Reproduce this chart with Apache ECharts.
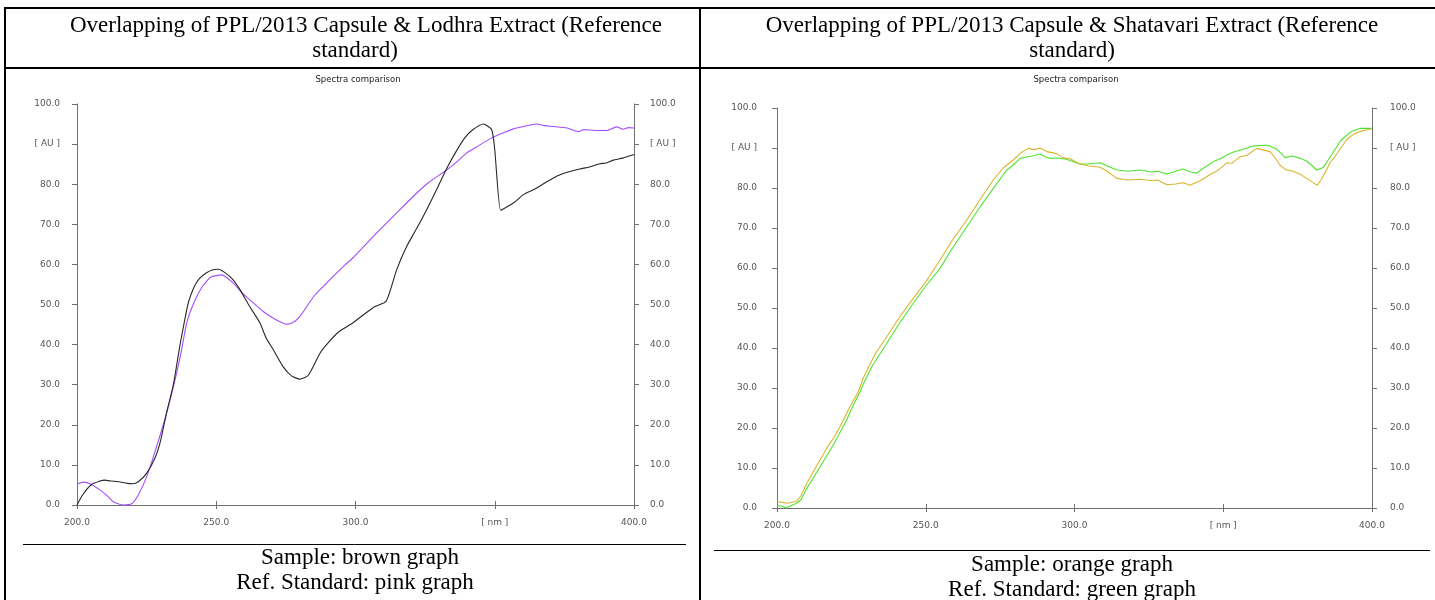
<!DOCTYPE html>
<html>
<head>
<meta charset="utf-8">
<script src="https://cdn.jsdelivr.net/npm/echarts@6/dist/echarts.min.js"></script>
<style>
html,body{margin:0;padding:0;background:#fff;}
#c{width:1435px;height:600px;}
</style>
</head>
<body>
<div id="c"></div>
<script>
// ---- tick labels ----
const xTickLabels = ['200.0', '250.0', '300.0', '[ nm ]', '400.0'];
const yTickLabels = ['0.0', '10.0', '20.0', '30.0', '40.0', '50.0', '60.0', '70.0', '80.0', '[ AU ]', '100.0'];

// ---- Lodhra chart: sample (dark) ----
const lodhraSampleNm = [200, 202, 205, 208, 210, 212, 215, 218, 220, 222, 225, 228, 230, 232, 234.6, 237, 238.5, 240, 242, 244, 246.5, 248.5, 250.7, 253, 256, 258.5, 262, 265.7, 268, 270.5, 274, 277, 280, 283, 287.3, 290, 294, 299, 303, 307, 311, 314.8, 318.4, 322, 325.6, 329, 332.8, 336, 339.3, 342, 345.9, 348.9, 350, 352.1, 354, 356.7, 360.3, 363.8, 368, 372.2, 376, 380.6, 384, 387.8, 390, 392.6, 396, 400];
const lodhraSampleAU = [0, 2.5, 5.0, 5.9, 6.2, 6.0, 5.8, 5.4, 5.3, 5.8, 7.9, 11.7, 16, 22.5, 30, 40, 45.5, 50.5, 54.3, 56.5, 57.9, 58.6, 58.8, 58, 56.2, 53.7, 49.5, 45.4, 41.5, 38.7, 34.5, 32.2, 31.4, 32.3, 37.9, 40.3, 43.2, 45.4, 47.5, 49.5, 50.8, 58.7, 64.5, 69, 73.7, 78.5, 84, 88, 91.6, 93.5, 95, 93.6, 88.6, 73.5, 74.2, 75.3, 77.4, 78.6, 80.3, 82, 83, 83.8, 84.3, 85.1, 85.3, 86, 86.5, 87.4];

// ---- Lodhra chart: reference (violet) ----
const lodhraRefNm = [200, 202.3, 205, 208.3, 211, 213, 216.6, 219.6, 222, 225, 228.6, 232.2, 235.2, 237.5, 239.4, 242, 245, 248, 252, 256, 259.5, 263.3, 267, 271, 275.3, 277.5, 280, 282.5, 285, 287, 289.6, 293, 296, 299, 303, 308.8, 314, 320.8, 326, 332.8, 336, 340, 344, 348.3, 352, 356.7, 361, 365, 368, 371, 376, 380, 382, 386, 390.2, 393.8, 396, 398, 400];
const lodhraRefAU = [5.2, 5.7, 5.2, 3.7, 2.2, 0.8, 0, 0.3, 2.5, 7, 14.6, 23, 31.2, 38.5, 45.4, 50.5, 54.5, 56.8, 57.4, 55.4, 52.8, 50.4, 48.2, 46.4, 45.1, 45.5, 47, 49.5, 52, 53.5, 55.3, 57.7, 59.7, 61.6, 64.5, 68.7, 72.3, 77, 80.3, 83.6, 85.3, 87.8, 89.5, 91.3, 92.5, 93.8, 94.5, 95, 94.6, 94.4, 94, 93.1, 93.6, 93.4, 93.4, 94.3, 93.7, 94.1, 94];

// ---- Shatavari chart: sample (orange) ----
const shatSampleNm = [200, 203.5, 206.6, 208, 210, 213.3, 216.7, 219, 221.2, 224.5, 227.3, 229, 233, 236.9, 241, 245.8, 250, 254.8, 259, 263.8, 268, 272.7, 276, 279.4, 282, 284.5, 286.5, 288.4, 290.7, 294, 296, 298.5, 301.8, 305, 308.6, 311, 314.2, 318, 322, 326, 328, 331, 334, 336.6, 338.8, 342.2, 345.5, 348, 351.2, 353, 355.6, 358, 361.2, 363, 365.7, 367.5, 369.1, 371, 373.5, 376, 378, 380, 381.6, 383, 384.7, 386, 387.5, 389.5, 391.4, 393.5, 395.9, 398, 400];
const shatSampleAU = [1.6, 1.2, 1.7, 3, 6.2, 10.5, 14.9, 17.5, 20.3, 25.3, 29, 32.5, 38.5, 42.8, 47.5, 52.4, 56.5, 62, 67, 72, 76.8, 82, 85, 87, 88.8, 89.9, 89.6, 90, 89.1, 88.6, 87.6, 87.3, 86, 85.5, 85.2, 84.2, 82.4, 82, 82.2, 81.8, 82, 80.8, 81, 81.3, 80.7, 81.8, 83.3, 84.3, 86.3, 86.2, 87.8, 88.2, 89.9, 89.6, 89.1, 87.5, 85.7, 84.6, 84.2, 83.4, 82.4, 81.4, 80.7, 82.2, 84.5, 86.5, 87.8, 90, 92, 93.3, 94.1, 94.5, 94.8];

// ---- Shatavari chart: reference (green) ----
const shatRefNm = [200, 201.5, 203, 206.6, 208, 210, 214.5, 218.9, 223.4, 225.5, 227.9, 229, 232, 236.9, 241, 245.8, 250, 254.8, 259, 263.8, 268, 272.7, 277.2, 279, 281.7, 284, 286, 288.4, 290, 291.8, 294, 297.3, 301.8, 304, 308.6, 311, 314.2, 318, 322, 326, 328, 331, 334, 336.6, 339, 341.1, 343, 346.7, 349, 351.2, 353.5, 356.7, 360.1, 362, 364.6, 366, 368, 370.8, 373.2, 376, 378, 380, 381.4, 383.6, 386, 389.6, 393, 395.9, 400];
const shatRefAU = [0.6, 0.5, 0, 1.2, 2, 4.9, 10.3, 15.75, 22, 25.5, 29, 31, 35.5, 41.2, 46, 51.2, 55.5, 59.9, 65, 70.3, 75, 79.9, 84.5, 85.5, 87.4, 87.8, 88, 88.5, 87.8, 87.4, 87.5, 87.2, 86, 86, 86.3, 85.5, 84.5, 84.2, 84.5, 84, 84.2, 83.5, 84.2, 84.75, 84, 83.7, 84.8, 86.6, 87.3, 88.25, 89, 89.7, 90.5, 90.6, 90.7, 90.4, 89.7, 87.6, 88, 87.4, 86.75, 85.5, 84.5, 85.1, 87.8, 92, 94.1, 94.9, 94.9];

const zip = (a, b) => a.map((v, i) => [v, b[i]]);

const AXIS_COLOR = '#707070';
const LABEL_COLOR = '#555';
const LABEL_FONT = 'DejaVu Sans';
const xFmt = v => xTickLabels[Math.round((v - 200) / 50)] || '';
const yFmt = v => yTickLabels[Math.round(v / 10)] || '';

function xAxes(gi, margin) {
  const base = {
    type: 'value', gridIndex: gi, min: 200, max: 400, interval: 50,
    axisLine: {show: true, lineStyle: {color: AXIS_COLOR, width: 1}},
    axisTick: {show: true, length: 4, lineStyle: {color: AXIS_COLOR}},
    splitLine: {show: false}
  };
  return [
    Object.assign({}, base, {position: 'bottom',
      axisLabel: {show: true, formatter: xFmt, color: LABEL_COLOR, fontSize: 9, fontFamily: LABEL_FONT, margin: margin}}),
    Object.assign({}, base, {position: 'top', axisLabel: {show: false}})
  ];
}
function yAxes(gi, mLeft, mRight) {
  const base = {
    type: 'value', gridIndex: gi, min: 0, max: 100, interval: 10,
    axisLine: {show: true, lineStyle: {color: AXIS_COLOR, width: 1}},
    axisTick: {show: true, length: 5, lineStyle: {color: AXIS_COLOR}},
    splitLine: {show: false}
  };
  return [
    Object.assign({}, base, {position: 'left',
      axisLabel: {show: true, formatter: yFmt, color: LABEL_COLOR, fontSize: 9, fontFamily: LABEL_FONT, margin: mLeft}}),
    Object.assign({}, base, {position: 'right',
      axisLabel: {show: true, formatter: yFmt, color: LABEL_COLOR, fontSize: 9, fontFamily: LABEL_FONT, margin: mRight}})
  ];
}

function txt(text, x, y, font, fill) {
  return {type: 'text', x: x, y: y, silent: true,
    style: {text: text, font: font, fill: fill || '#000', textAlign: 'center', textVerticalAlign: 'middle', align: 'center', verticalAlign: 'middle'}};
}
function ln(x1, y1, x2, y2, w) {
  return {type: 'line', silent: true, shape: {x1: x1, y1: y1, x2: x2, y2: y2}, style: {stroke: '#000', lineWidth: w}};
}

const SERIF = '23px "Liberation Serif", "Times New Roman", serif';
const SMALL = '8.5px "DejaVu Sans", sans-serif';

const chart = echarts.init(document.getElementById('c'), null, {renderer: 'canvas'});
chart.setOption({
  animation: false,
  backgroundColor: '#fff',
  grid: [
    {left: 77, right: 801, top: 104, bottom: 95, containLabel: false},
    {left: 777, right: 63, top: 108, bottom: 92, containLabel: false}
  ],
  xAxis: [].concat(xAxes(0, 13), xAxes(1, 13)),
  yAxis: [].concat(yAxes(0, 17, 16), yAxes(1, 20, 18)),
  series: [
    {type: 'line', name: 'Sample', xAxisIndex: 0, yAxisIndex: 0, data: zip(lodhraSampleNm, lodhraSampleAU),
      showSymbol: false, smooth: 0.2, lineStyle: {color: '#2a2626', width: 1.1}, z: 3},
    {type: 'line', name: 'Ref. Standard', xAxisIndex: 0, yAxisIndex: 0, data: zip(lodhraRefNm, lodhraRefAU),
      showSymbol: false, smooth: 0.2, lineStyle: {color: '#a24dff', width: 1.1}, z: 2},
    {type: 'line', name: 'Sample', xAxisIndex: 2, yAxisIndex: 2, data: zip(shatSampleNm, shatSampleAU),
      showSymbol: false, smooth: false, lineStyle: {color: '#d9b42c', width: 1.1}, z: 3},
    {type: 'line', name: 'Ref. Standard', xAxisIndex: 2, yAxisIndex: 2, data: zip(shatRefNm, shatRefAU),
      showSymbol: false, smooth: false, lineStyle: {color: '#4de52e', width: 1.1}, z: 2}
  ],
  graphic: [
    // table borders
    ln(4, 8, 1435, 8, 2),
    ln(4, 68, 1435, 68, 2),
    ln(5, 7, 5, 600, 2),
    ln(700, 7, 700, 600, 2),
    // caption separators
    ln(23, 544.5, 686, 544.5, 1),
    ln(714, 550.5, 1430, 550.5, 1),
    // titles
    txt('Overlapping of PPL/2013 Capsule & Lodhra Extract (Reference', 366, 26, SERIF),
    txt('standard)', 355, 51, SERIF),
    txt('Overlapping of PPL/2013 Capsule & Shatavari Extract (Reference', 1072, 26, SERIF),
    txt('standard)', 1072, 51, SERIF),
    // chart subtitles
    txt('Spectra comparison', 358, 80, SMALL, '#222'),
    txt('Spectra comparison', 1076, 80, SMALL, '#222'),
    // captions
    txt('Sample: brown graph', 360, 558, SERIF),
    txt('Ref. Standard: pink graph', 355, 583, SERIF),
    txt('Sample: orange graph', 1072, 565, SERIF),
    txt('Ref. Standard: green graph', 1072, 590, SERIF)
  ]
});
</script>
</body>
</html>
